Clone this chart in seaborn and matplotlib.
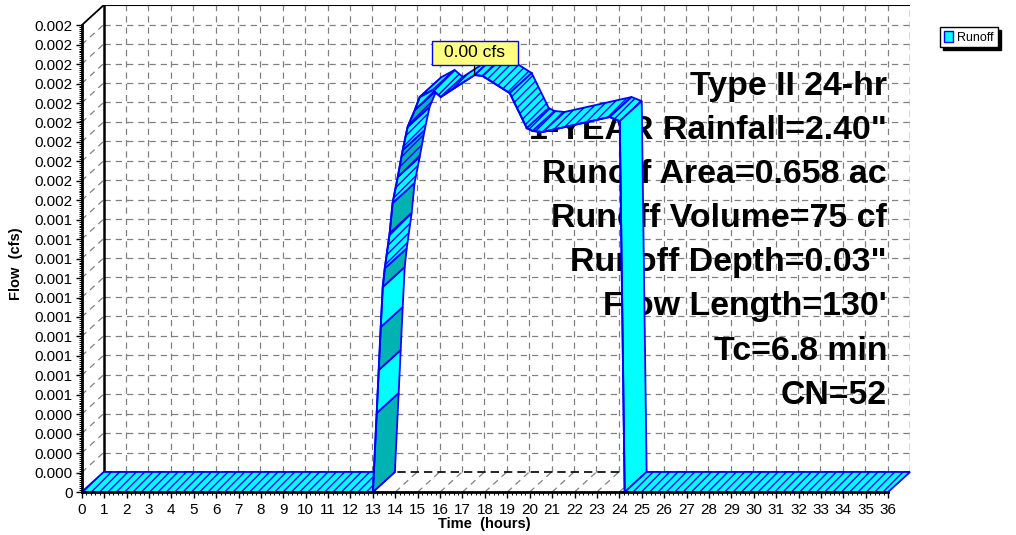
import numpy as np
import matplotlib
matplotlib.use("Agg")
import matplotlib.pyplot as plt
import seaborn as sns
from matplotlib.patches import Polygon, Patch
from matplotlib.path import Path

# Runoff hydrograph (front edge of the ribbon)
hours = [0.0, 13.0, 13.17, 13.26, 13.35, 13.44, 13.53, 13.75, 13.88, 14.11, 14.33,
         14.55, 14.87, 15.09, 15.67, 16.03, 17.54, 17.9, 19.11, 19.87, 20.13, 20.58,
         23.57, 24.02, 24.24, 36.0]
flow = [0.0, 0.0, 0.000406, 0.000627, 0.000848, 0.001054, 0.00115, 0.001332, 0.001486,
        0.00162, 0.001758, 0.001877, 0.001964, 0.002031, 0.002067, 0.002031, 0.002144,
        0.002139, 0.002051, 0.001871, 0.001856, 0.001851, 0.001928, 0.001907, 0.0, 0.0]
peak_idx = 16
peak_label = "0.00 cfs"

x_ticks = list(range(0, 37))
y_ticks = [k * 0.0001 for k in range(25)]
y_tick_labels = ["0"] + ["0.000"] * 4 + ["0.001"] * 10 + ["0.002"] * 10

info_lines = ["Type II 24-hr", "1-YEAR Rainfall=2.40\"", "Runoff Area=0.658 ac",
              "Runoff Volume=75 cf", "Runoff Depth=0.03\"", "Flow Length=130'",
              "Tc=6.8 min", "CN=52"]

# depth of the fake 3D box, in data units
dx, dy = 0.98, 0.000103
ymax = 0.0024

sns.set_style("white")
plt.rcParams["font.family"] = ["Liberation Sans", "DejaVu Sans"]
plt.rcParams["hatch.linewidth"] = 1.0
plt.rcParams["text.color"] = "black"
plt.rcParams["axes.labelcolor"] = "black"


def wide_box(x0, y0, width, height, mutation_size):
    # label box, wider than tall like the original callout
    px, py = 0.72 * mutation_size, 0.27 * mutation_size
    x0, y0 = x0 - px, y0 - py
    x1, y1 = x0 + width + 2 * px, y0 + height + 2 * py
    return Path([(x0, y0), (x1, y0), (x1, y1), (x0, y1), (x0, y0)], closed=True)


fig = plt.figure(figsize=(10.16, 5.35), dpi=100)
ax = fig.add_axes([81.7 / 1016, 43 / 535, 37 * 22.4 / 1016, 486.8 / 535])
ax.set_xlim(0, 37)
ax.set_ylim(0, ymax + dy)
ax.patch.set_alpha(0)

# back plane grid
grid_kw = dict(color="#808080", lw=0.9, ls=(0, (5, 4)), zorder=1)
for h in x_ticks[1:-1]:
    ax.plot([h + dx, h + dx], [dy, ymax + dy], **grid_kw)
for h in x_ticks[1:]:
    ax.plot([h, h + dx], [0, dy], **grid_kw)
for y in y_ticks[1:-1]:
    ax.plot([dx, 36 + dx], [y + dy, y + dy], **grid_kw)
for y in y_ticks[1:-1]:
    ax.plot([0, dx], [y, y + dy], **grid_kw)

# frame of the box
ax.plot([dx, dx], [dy, ymax + dy], color="black", lw=1.8, zorder=1.5)
ax.plot([0, dx], [ymax, ymax + dy], color="black", lw=1.3, zorder=1.5)
ax.plot([dx, 36 + dx], [ymax + dy, ymax + dy], color="black", lw=0.8, zorder=1.5)
ax.plot([dx, 36 + dx], [dy, dy], color="black", lw=1.2, ls=(0, (5, 3)), zorder=1.5)
ax.plot([36 + dx, 36 + dx], [dy, ymax + dy], color="#333333", lw=1.0,
        ls=(0, (5, 3)), zorder=1.5)

# info text sits behind the ribbon
for i, line in enumerate(info_lines):
    ax.text(887 / 1016, 1 - (94.5 + 44.2 * i) / 535, line, transform=fig.transFigure,
            ha="right", va="baseline", fontsize=24.4, fontweight="bold",
            color="black", zorder=2)

# ribbon, one quad per segment
fig.canvas.draw()
to_px = ax.transData.transform
n_under = 0
for i in range(len(hours) - 1):
    t0, t1 = hours[i], hours[i + 1]
    q0, q1 = flow[i], flow[i + 1]
    quad = [(t0, q0), (t1, q1), (t1 + dx, q1 + dy), (t0 + dx, q0 + dy)]
    p0, p1, p3 = to_px((t0, q0)), to_px((t1, q1)), to_px((t0 + dx, q0 + dy))
    s = p1 - p0
    d = p3 - p0
    underside = s[0] * d[1] - s[1] * d[0] < 0
    face = "#00FFFF"
    if underside:
        face = "#00B2B2" if n_under % 2 == 0 else "#00FFFF"
        n_under += 1
    slope = abs(q1 - q0) / (t1 - t0)
    poly = Polygon(quad, closed=True, facecolor=face, edgecolor="#0000FF", lw=1.3,
                   hatch="////" if slope < 0.001 else None,
                   zorder=3 + i * 0.01, clip_on=False)
    ax.add_patch(poly)

sns.lineplot(x=hours, y=flow, color="#0000FF", lw=1.4, estimator=None,
             sort=False, ax=ax, zorder=4)

# peak callout
ax.annotate(peak_label, xy=(hours[peak_idx], flow[peak_idx]), xytext=(0, 16),
            textcoords="offset points", ha="center", va="center", fontsize=12.5,
            color="black",
            bbox=dict(boxstyle=wide_box, fc="#FFFF80", ec="#0000FF", lw=1),
            arrowprops=dict(arrowstyle="-", color="black", lw=1, shrinkA=0, shrinkB=0),
            zorder=10)

# axes
for side in ["top", "right"]:
    ax.spines[side].set_visible(False)
ax.spines["left"].set_bounds(0, ymax)
ax.spines["bottom"].set_bounds(0, 36)
for side in ["left", "bottom"]:
    ax.spines[side].set_linewidth(2)
    ax.spines[side].set_color("black")
    ax.spines[side].set_zorder(5)

ax.set_xticks(x_ticks)
ax.set_xticklabels([str(h) for h in x_ticks])
ax.set_yticks(y_ticks)
ax.set_yticklabels(y_tick_labels)
ax.set_xticks(np.arange(0, 36.01, 0.2), minor=True)
ax.set_yticks(np.arange(0, ymax + 1e-9, 0.00001), minor=True)
ax.tick_params(axis="both", which="major", length=4, width=1, direction="out",
               labelsize=11, colors="black", left=True, bottom=True)
ax.tick_params(axis="x", which="major", pad=4)
ax.tick_params(axis="y", which="major", pad=2.5)
ax.tick_params(axis="both", which="minor", length=2.5, width=0.7, direction="out",
               colors="black", left=True, bottom=True)

ax.set_xlabel("Time  (hours)", fontsize=10.5, fontweight="bold", color="black")
ax.set_ylabel("Flow  (cfs)", fontsize=10.5, fontweight="bold", color="black")
ax.xaxis.set_label_coords(0.4854, -0.051)
ax.yaxis.set_label_coords(-0.0705, 0.47)

fig.legend(handles=[Patch(facecolor="#00FFFF", edgecolor="#0000FF", label="Runoff")],
           loc="upper left", bbox_to_anchor=(940 / 1016, 1 - 27 / 535),
           borderaxespad=0, borderpad=0.3, handlelength=0.7, handleheight=1.0,
           handletextpad=0.4, fontsize=9, fancybox=False, edgecolor="black",
           framealpha=1, shadow={"color": "black", "alpha": 1})

fig.savefig("out.png", dpi=100)
